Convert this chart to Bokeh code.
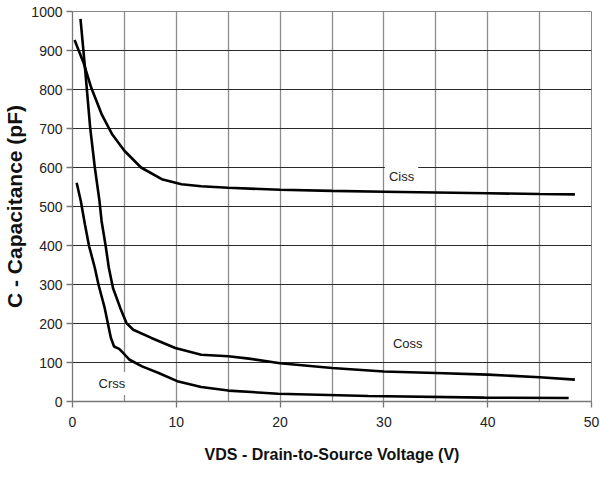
from bokeh.plotting import figure
from bokeh.models import FixedTicker, Label, Range1d
from bokeh.embed import file_html
from bokeh.resources import INLINE

# Data
ciss_v = [0.2, 1.1, 1.8, 2.8, 3.8, 5.0, 6.6, 8.6, 10.5, 12.4, 15, 20, 25, 30, 35, 40, 45, 48.4]
ciss_c = [927, 866, 805, 737, 686, 643, 600, 570, 557, 552, 548, 543, 540, 538, 536, 534, 532, 531]

coss_v = [0.77, 1.2, 1.7, 2.15, 2.6, 2.8, 3.2, 3.5, 3.9, 4.6, 5.2, 5.85, 7.6, 9.9, 12.4,
          15, 17, 20, 25, 30, 35, 40, 45, 48.4]
coss_c = [981, 857, 703, 600, 514, 463, 398, 343, 291, 240, 201, 184, 163, 137, 120,
          116, 110, 98, 86, 77, 73, 69, 62, 56]

crss_v = [0.4, 0.8, 1.2, 1.6, 2.15, 2.5, 3.1, 3.4, 3.7, 4.0, 4.5, 4.9, 5.5, 6.7, 8.3,
          10.2, 12.4, 15, 19.8, 28.5, 39.7, 47.8]
crss_c = [561, 514, 454, 398, 343, 300, 240, 201, 163, 141, 135, 124, 107, 90, 73,
          51, 37, 28, 20, 14, 10, 9]

curve_names = ["Ciss", "Coss", "Crss"]
label_x = [31.7, 32.3, 3.8]
label_y = [576, 148, 46]

x_grid = [0, 5, 10, 15, 20, 25, 30, 35, 40, 45, 50]
x_ticks = [0, 10, 20, 30, 40, 50]
y_ticks = [0, 100, 200, 300, 400, 500, 600, 700, 800, 900, 1000]

FONT = "Liberation Sans"

p = figure(width=600, height=481, output_backend="svg", toolbar_location=None,
           x_range=Range1d(0, 50), y_range=Range1d(0, 1000),
           min_border_left=71, min_border_right=9, min_border_top=11, min_border_bottom=80)

p.outline_line_color = "#888888"
p.background_fill_color = "white"
p.border_fill_color = "white"

# grids
p.xgrid.ticker = FixedTicker(ticks=x_grid)
p.ygrid.ticker = FixedTicker(ticks=y_ticks)
p.xgrid.grid_line_color = "#8c8c8c"
p.xgrid.grid_line_width = 1.3
p.ygrid.grid_line_color = "#2a2a2a"
p.ygrid.grid_line_width = 1.2

# axes
p.xaxis.ticker = FixedTicker(ticks=x_ticks)
p.yaxis.ticker = FixedTicker(ticks=y_ticks)
for ax in (p.xaxis[0], p.yaxis[0]):
    ax.axis_line_color = "#777777"
    ax.axis_line_width = 1.3
    ax.major_tick_line_color = "#777777"
    ax.major_tick_line_width = 1.3
    ax.major_tick_in = 0
    ax.major_tick_out = 6
    ax.minor_tick_line_color = None
    ax.major_label_text_font = FONT
    ax.major_label_text_font_size = "14px"
    ax.major_label_text_color = "#222222"
    ax.axis_label_text_font = FONT
    ax.axis_label_text_font_style = "bold"
    ax.axis_label_text_color = "#111111"

p.xaxis.axis_label = "VDS - Drain-to-Source Voltage (V)"
p.xaxis.axis_label_text_font_size = "16px"
p.xaxis.axis_label_standoff = 16
p.xaxis.major_label_standoff = 9
p.yaxis.axis_label = "C - Capacitance (pF)"
p.yaxis.axis_label_text_font_size = "21px"
p.yaxis.axis_label_standoff = 2
p.yaxis.major_label_standoff = 4

# curves
for xs, ys in ((ciss_v, ciss_c), (coss_v, coss_c), (crss_v, crss_c)):
    p.line(xs, ys, line_color="black", line_width=2.6)

# curve labels with white boxes
for name, lx, ly in zip(curve_names, label_x, label_y):
    p.add_layout(Label(x=lx, y=ly, text=name, text_align="center", text_baseline="middle",
                       text_font=FONT, text_font_size="13px", text_color="#222222",
                       background_fill_color="white", background_fill_alpha=1.0,
                       padding=4))

open("out.html", "w").write(file_html(p, INLINE))
